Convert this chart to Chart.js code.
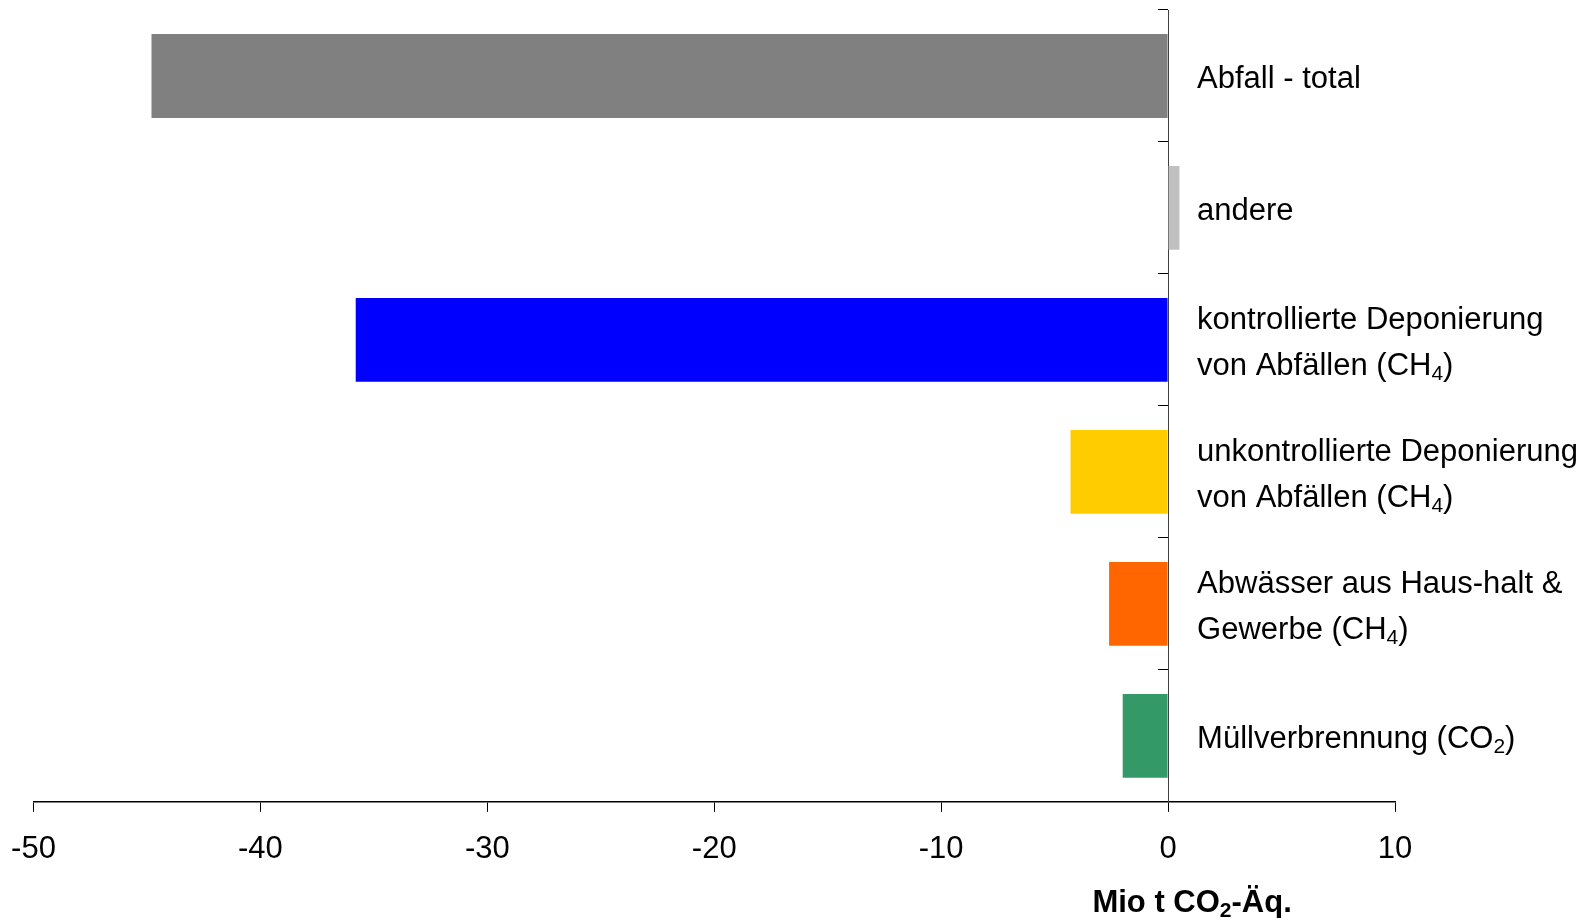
<!DOCTYPE html>
<html>
<head>
<meta charset="utf-8">
<script src="https://cdn.jsdelivr.net/npm/chart.js@4/dist/chart.umd.min.js"></script>
<style>
  html, body { margin: 0; padding: 0; background: #ffffff; }
  #wrap { position: relative; width: 1594px; height: 918px; }
</style>
</head>
<body>
<div id="wrap"><canvas id="chart"></canvas></div>
<script>
// Emissionsänderung im Abfallsektor, Mio t CO2-Äquivalente
const categories = [
  ['Abfall - total'],
  ['andere'],
  ['kontrollierte Deponierung', 'von Abfällen (CH₄)'],
  ['unkontrollierte Deponierung', 'von Abfällen (CH₄)'],
  ['Abwässer aus Haus-halt &', 'Gewerbe (CH₄)'],
  ['Müllverbrennung (CO₂)']
];
const values = [-44.8, 0.5, -35.8, -4.3, -2.6, -2.0];
const xTicks = [-50, -40, -30, -20, -10, 0, 10];
const axisTitle = 'Mio t CO₂-Äq.';

const barColors = ['#808080', '#C0C0C0', '#0000FF', '#FFCC00', '#FF6600', '#339966'];

const FONT = '"Liberation Sans", Arial, Helvetica, sans-serif';
const SUBSCRIPTS = { '₀': '0', '₁': '1', '₂': '2', '₃': '3', '₄': '4', '₅': '5', '₆': '6', '₇': '7', '₈': '8', '₉': '9' };

// Writes text with chemical-formula subscripts; y is the baseline.
function drawRichText(ctx, text, x, y, size, weight, align) {
  const segs = [];
  for (const ch of text) {
    const sub = SUBSCRIPTS[ch];
    const last = segs[segs.length - 1];
    if (last && last.sub === !!sub) last.t += sub || ch;
    else segs.push({ t: sub || ch, sub: !!sub });
  }
  const fontFor = s => `${weight} ${s ? Math.round(size * 0.68) : size}px ${FONT}`;
  let total = 0;
  segs.forEach(s => { ctx.font = fontFor(s.sub); s.w = ctx.measureText(s.t).width; total += s.w; });
  let cx = align === 'center' ? x - total / 2 : x;
  ctx.textAlign = 'left';
  ctx.textBaseline = 'alphabetic';
  segs.forEach(s => {
    ctx.font = fontFor(s.sub);
    ctx.fillText(s.t, cx, y + (s.sub ? size * 0.17 : 0));
    cx += s.w;
  });
}

// Category names to the right of the zero line, plus the unit title under the axis.
const sideLabels = {
  id: 'sideLabels',
  afterDraw(chart) {
    const { ctx, scales: { x, y } } = chart;
    const size = 31;
    const lineGap = 46;
    const x0 = x.getPixelForValue(0);
    ctx.save();
    ctx.fillStyle = '#000000';
    chart.data.labels.forEach((lines, i) => {
      const cy = y.getPixelForValue(i) + 1;
      const firstCenter = cy - (lines.length - 1) * lineGap / 2;
      lines.forEach((line, k) => {
        drawRichText(ctx, line, x0 + 29, firstCenter + k * lineGap + size * 0.36, size, 'normal', 'left');
      });
    });
    drawRichText(ctx, axisTitle, x0 + 24, chart.height - 6, 31, 'bold', 'center');
    ctx.restore();
  }
};

new Chart(document.getElementById('chart'), {
  type: 'bar',
  data: {
    labels: categories,
    datasets: [{
      data: values,
      backgroundColor: barColors,
      borderWidth: 0,
      barPercentage: 0.635,
      categoryPercentage: 1
    }]
  },
  options: {
    indexAxis: 'y',
    responsive: true,
    maintainAspectRatio: false,
    animation: false,
    layout: { padding: { left: 33.5, right: 199, top: 10, bottom: 31 } },
    plugins: {
      legend: { display: false },
      tooltip: { enabled: false }
    },
    scales: {
      x: {
        type: 'linear',
        min: xTicks[0],
        max: xTicks[xTicks.length - 1],
        afterBuildTicks: scale => { scale.ticks = xTicks.map(v => ({ value: v })); },
        afterFit: scale => { scale.paddingLeft = 0; scale.paddingRight = 0; },
        grid: { drawOnChartArea: false, drawTicks: true, tickLength: 10, color: '#000000', lineWidth: 1 },
        border: { display: true, color: '#000000', width: 1.5 },
        ticks: { color: '#000000', padding: 19, font: { family: FONT, size: 31 } }
      },
      y: {
        type: 'category',
        position: { x: 0 },
        offset: true,
        grid: { offset: true, drawOnChartArea: false, drawTicks: true, tickLength: 10, color: '#000000', lineWidth: 1 },
        border: { display: true, color: '#404040', width: 1 },
        ticks: { display: false }
      }
    }
  },
  plugins: [sideLabels]
});
</script>
</body>
</html>
